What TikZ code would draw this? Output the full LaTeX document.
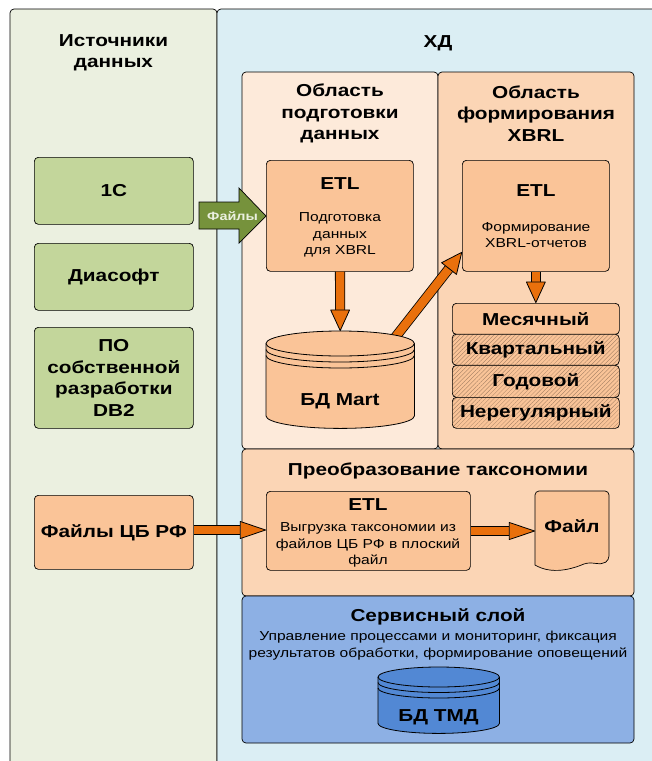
\documentclass[tikz,border=0pt]{standalone}
\usepackage{fontspec}
\setmainfont[FakeStretch=1.2]{Liberation Sans}
\usetikzlibrary{arrows.meta,patterns.meta,calc}
\definecolor{srcpanel}{HTML}{EBF0E0}
\definecolor{dwhpanel}{HTML}{DBEEF4}
\definecolor{prep}{HTML}{FDEADA}
\definecolor{form}{HTML}{FBD5B5}
\definecolor{peach}{HTML}{FAC498}
\definecolor{grn}{HTML}{C3D69B}
\definecolor{grnarrow}{HTML}{76923C}
\definecolor{org}{HTML}{E9700C}
\definecolor{svc}{HTML}{8DB0E4}
\definecolor{svcdb}{HTML}{5288D4}
\tikzset{
  x=1pt,y=-1pt,
  panel/.style={draw=black,line width=.7pt,rounded corners=4pt},
  box/.style={draw=black,line width=.7pt,rounded corners=4pt,fill=#1,anchor=north west,inner sep=0pt,align=center},
  ttl/.style={font=\fontsize{17.3}{21.5}\selectfont\bfseries,align=center,inner sep=0pt},
  sub/.style={font=\fontsize{13}{16.3}\selectfont,align=center,inner sep=0pt},
  blockarrow/.style n args={3}{draw=black,line width=.8pt,double=org,double distance=#1,
    -{Triangle[length=#2,width=#3,fill=org,line width=.8pt,round]}},
  hatched/.style={preaction={fill=peach},pattern={Lines[angle=45,distance=3pt,line width=.3pt]},pattern color=black!38!peach},
}
\newcommand{\sizedbox}[8]{%
  % name, fill, x1, y1, x2, y2, extra, text
  \node[box=#2,minimum width=#5-#3,minimum height=#6-#4,#7] (#1) at (#3,#4) {#8};}
\newcommand{\dbshape}[4]{%
  % name, fill, ellipse half-height, ring spacing
  \path[draw=black,line width=.8pt,fill=#2]
    let \p1=(#1.north west),\p2=(#1.south east),\n1={#3*1pt},\n2={.5*(\x2-\x1)},
        \n3={\x1+.45*\n2},\n4={\x1+\n2},\n5={\x2-.45*\n2} in
    (\x1,\y1-\n1) -- (\x1,\y2+\n1)
    .. controls (\x1,\y2+.45*\n1) and (\n3,\y2) .. (\n4,\y2)
    .. controls (\n5,\y2) and (\x2,\y2+.45*\n1) .. (\x2,\y2+\n1)
    -- (\x2,\y1-\n1)
    .. controls (\x2,\y1-.45*\n1) and (\n5,\y1) .. (\n4,\y1)
    .. controls (\n3,\y1) and (\x1,\y1-.45*\n1) .. (\x1,\y1-\n1) -- cycle;
  \foreach \d in {0,1,2}{
    \draw[line width=.8pt]
      let \p1=(#1.north west),\p2=(#1.south east),\n1={#3*1pt},\n2={.5*(\x2-\x1)},
          \n3={\x1+.45*\n2},\n4={\x1+\n2},\n5={\x2-.45*\n2},\n6={\d*#4*1pt} in
      (\x1,\y1-\n1-\n6) .. controls (\x1,\y1-1.55*\n1-\n6) and (\n3,\y1-2*\n1-\n6) .. (\n4,\y1-2*\n1-\n6)
      .. controls (\n5,\y1-2*\n1-\n6) and (\x2,\y1-1.55*\n1-\n6) .. (\x2,\y1-\n1-\n6);
  }}
\begin{document}
\begin{tikzpicture}
\useasboundingbox (0,0) rectangle (652,761);
\clip (0,0) rectangle (652,761);
% outer panels
\draw[panel,fill=srcpanel] (10,9) rectangle (217,790);
\draw[panel,fill=dwhpanel] (217,9) rectangle (680,790);
\node[ttl] (tsrc) at (113.5,53) {Источники\\данных};
\node[ttl] (tdwh) at (438,43) {ХД};
% areas
\draw[panel,fill=prep] (242,72) rectangle (438,449);
\draw[panel,fill=form] (438,72) rectangle (634,449);
\draw[panel,fill=form] (242,449) rectangle (634,596);
\draw[panel,fill=svc] (242,596) rectangle (634,743);
\node[ttl] (tprep) at (340,113.5) {Область\\подготовки\\данных};
\node[ttl] (tform) at (536,113.5) {Область\\формирования\\XBRL};
\node[ttl] (ttax) at (438,471) {Преобразование таксономии};
\node[ttl] (tsvc) at (438,617) {Сервисный слой};
\node[sub] (tsvcsub) at (438,645.5) {Управление процессами и мониторинг, фиксация\\результатов обработки, формирование оповещений};
% sources
\sizedbox{s1}{grn}{34}{157}{193}{224}{ttl}{1С}
\sizedbox{s2}{grn}{34}{243}{193}{310}{ttl}{Диасофт}
\sizedbox{s3}{grn}{34}{327}{193}{428}{ttl}{ПО\\собственной\\разработки\\DB2}
\sizedbox{s4}{peach}{34}{495}{193}{569}{ttl}{Файлы ЦБ РФ}
% etl boxes
\sizedbox{e1}{peach}{266}{160}{413}{271}{}{}
\node[ttl] (e1t) at (340,184) {ETL};
\node[sub] (e1s) at (340,235) {Подготовка\\данных\\для XBRL};
\sizedbox{e2}{peach}{462}{160}{609}{271}{}{}
\node[ttl] (e2t) at (536,190.5) {ETL};
\node[sub] (e2s) at (536,235) {Формирование\\XBRL-отчетов};
\sizedbox{e3}{peach}{266}{491}{470}{570}{}{}
\node[ttl] (e3t) at (368,505) {ETL};
\node[sub] (e3s) at (368,545) {Выгрузка таксономии из\\файлов ЦБ РФ в плоский\\файл};
% report stack
\sizedbox{r1}{peach}{452}{303}{619}{334}{ttl}{Месячный}
\sizedbox{r2}{peach}{452}{334}{619}{365}{ttl,hatched}{Квартальный}
\sizedbox{r3}{peach}{452}{365}{619}{397}{ttl,hatched}{Годовой}
\sizedbox{r4}{peach}{452}{397}{619}{428}{ttl,hatched}{Нерегулярный}
% connectors that end on or behind the shapes below
\coordinate (mstart) at (393.9,339);
\coordinate (e2in) at (e2.west |- 0,252);
\draw[blockarrow={8.5pt}{22pt}{20pt}] (mstart) -- (e2in);
% databases
\node[inner sep=0pt,minimum width=148pt,minimum height=97pt,anchor=north west] (mart) at (266,331) {};
\dbshape{mart}{peach}{12.5}{6}
\node[ttl] (martt) at (340,401) {БД Mart};
\node[inner sep=0pt,minimum width=121pt,minimum height=66pt,anchor=north west] (tmd) at (378,667) {};
\dbshape{tmd}{svcdb}{10}{5.5}
\node[ttl] (tmdt) at (438.5,717) {БД ТМД};
% file
\coordinate (f1) at (535,491);
\path[draw=black,line width=.7pt,fill=peach,rounded corners=4pt]
  (535,491) -- (609,491) -- (609,560)
  [sharp corners] .. controls (600,566) and (592,561) .. (584,564)
  .. controls (572,569) and (552,575) .. (535,565)
  [rounded corners=4pt] -- cycle;
\node[ttl,minimum width=74pt,minimum height=30pt] (file) at (572,526) {Файл};
% connectors
\draw[blockarrow={8.5pt}{22pt}{20pt}] (e1) -- (mart.north);
\draw[blockarrow={8.5pt}{22pt}{20pt}] (e2) -- (r1);
\coordinate (e3in) at (e3.west |- 0,530);
\coordinate (s4out) at (s4.east |- 0,530);
\draw[blockarrow={8.5pt}{27pt}{18pt}] (s4out) -- (e3in);
\coordinate (e3out) at (e3.east |- 0,531);
\coordinate (filein) at (f1 |- 0,531);
\draw[blockarrow={8.5pt}{27pt}{18pt}] (e3out) -- (filein);
% Files arrow
\coordinate (farrowstart) at (199,216);
\coordinate (e1in) at (e1.west |- 0,216);
\path[draw=black,line width=.7pt,fill=grnarrow] (farrowstart |- 0,202) -- (239,202) -- (239,188) -- (e1in) -- (239,243) -- (239,229) -- (farrowstart |- 0,229) -- cycle;
\node[font=\fontsize{12}{14}\selectfont\bfseries,text=srcpanel,inner sep=0pt] (flab) at (232.5,216) {Файлы};
\end{tikzpicture}
\end{document}
